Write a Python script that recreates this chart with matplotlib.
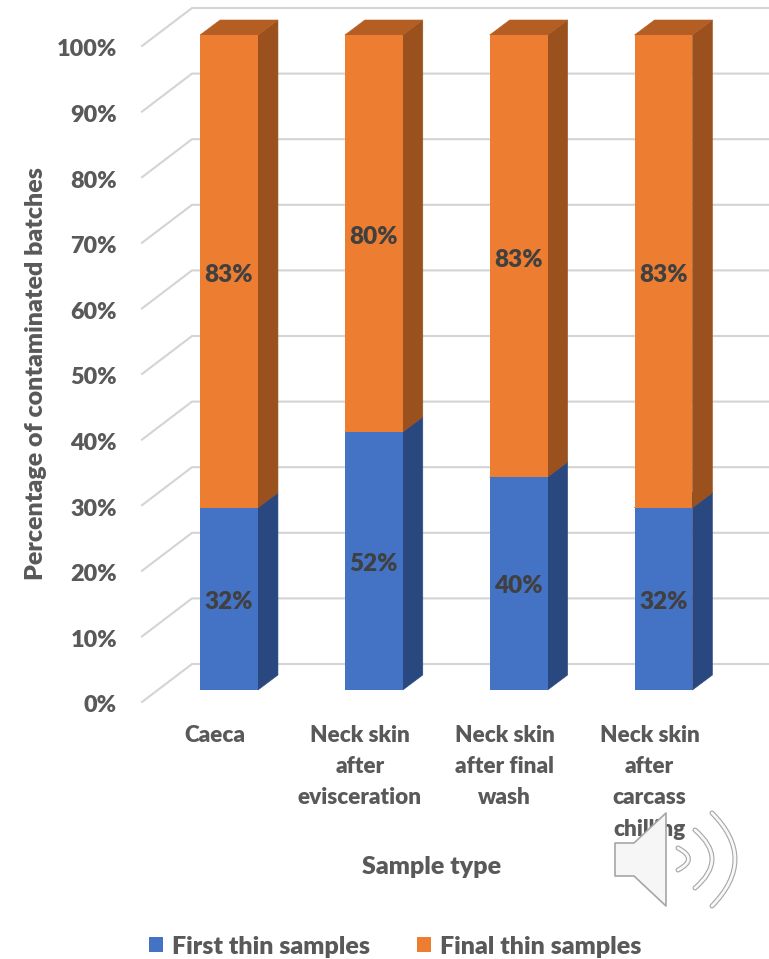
import matplotlib
matplotlib.use("Agg")
import matplotlib.pyplot as plt
import numpy as np
from matplotlib.patches import Rectangle, Polygon, PathPatch
from matplotlib.path import Path
from matplotlib.transforms import ScaledTranslation

W, H = 769, 959

categories = ["Caeca", "Neck skin\nafter\nevisceration", "Neck skin\nafter final\nwash", "Neck skin\nafter\ncarcass\nchilling"]
first_thin = [32, 52, 40, 32]
final_thin = [83, 80, 83, 83]
yticks = list(range(0, 101, 10))

TEXT = "#595959"
plt.rcParams["font.family"] = ["Lato", "DejaVu Sans"]
plt.rcParams["font.weight"] = "heavy"

fig = plt.figure(figsize=(W / 100, H / 100), dpi=100)
# front plane of the chart: y = 0 sits at pixel 702, y = 100 at pixel 46
ax = fig.add_axes([142 / W, 1 - 702 / H, (W - 142) / W, (702 - 46) / H])

PX_X = 1 / 144.83   # one pixel in x data units
PX_Y = 100 / 656    # one pixel in y data units
ax.set_xlim((142 - 229) * PX_X, (W - 229) * PX_X)
ax.set_ylim(0, 100)

# walls: a diagonal on the floor side and a line along the back
x0 = ax.get_xlim()[0]
x1 = ax.get_xlim()[1]
back_x = x0 + 50 * PX_X
back_y = 38 * PX_Y
for t in yticks:
    ax.plot([x0, back_x, x1], [t, t + back_y, t + back_y], color="#D4D4D4", lw=1.5,
            clip_on=False, zorder=1, solid_joinstyle="round")

# bars are drawn 3D-style with a side and a top face
x = np.arange(len(categories))
bar_w = 0.4
base = 12 * PX_Y
dx = 20 * PX_X
dy = 15 * PX_Y
bar_scale = 655 / 656


def box(xc, y0, y1, front, side, top):
    l, r = xc - bar_w / 2, xc + bar_w / 2
    ax.add_patch(Polygon([(r, y0), (r + dx, y0 + dy), (r + dx, y1 + dy), (r, y1)],
                         fc=side, ec=side, lw=0.4, clip_on=False, zorder=3))
    ax.add_patch(Polygon([(l, y1), (l + dx, y1 + dy), (r + dx, y1 + dy), (r, y1)],
                         fc=top, ec=top, lw=0.4, clip_on=False, zorder=3))
    ax.bar(xc, y1 - y0, bar_w, bottom=y0, color=front, clip_on=False, zorder=4)


for i in x:
    total = first_thin[i] + final_thin[i]
    share = first_thin[i] / total * 100
    y_mid = base + share * bar_scale
    y_top = base + 100 * bar_scale
    box(i, base, y_mid, "#4472C4", "#2A4880", "#2F5597")
    box(i, y_mid, y_top, "#ED7D31", "#9A511E", "#B55E24")
    # labels sit a few pixels under the segment centre
    ax.text(i, (base + y_mid) / 2 - 3 * PX_Y, f"{first_thin[i]}%", ha="center", va="center",
            fontsize=17.5, color="#404040", zorder=5)
    ax.text(i, (y_mid + y_top) / 2 - 4 * PX_Y, f"{final_thin[i]}%", ha="center", va="center",
            fontsize=17.5, color="#404040", zorder=5)

ax.set_yticks(yticks)
ax.set_yticklabels([f"{t}%" for t in yticks], fontsize=16.8, color=TEXT)
ax.set_xticks(x - 14 * PX_X)
ax.set_xticklabels(categories, fontsize=16.2, color=TEXT, linespacing=1.6)
ax.tick_params(axis="both", length=0)
ax.tick_params(axis="y", pad=18)
ax.tick_params(axis="x", pad=16.5)
# y labels hang 2 px below their gridline
shift = ScaledTranslation(0, -2 / 100, fig.dpi_scale_trans)
for lab in ax.get_yticklabels():
    lab.set_transform(lab.get_transform() + shift)
for s in ax.spines.values():
    s.set_visible(False)
ax.patch.set_alpha(0)

fig.text(36 / W, 1 - 374 / H, "Percentage of contaminated batches", rotation=90,
         ha="center", va="center", fontsize=18, color=TEXT)
fig.text(432 / W, 1 - 867.5 / H, "Sample type", ha="center", va="center",
         fontsize=18, color=TEXT)

handles = [Rectangle((0, 0), 1, 1, fc="#4472C4"), Rectangle((0, 0), 1, 1, fc="#ED7D31")]
leg = fig.legend(handles, ["First thin samples", "Final thin samples"], ncols=2,
                 loc="center", bbox_to_anchor=(395 / W, 1 - 946.5 / H), frameon=False,
                 fontsize=18, labelcolor=TEXT, handlelength=0.56, handleheight=0.56,
                 handletextpad=0.36, columnspacing=1.9, borderpad=0)

# speaker icon in pixel coordinates, over the axis text
icon = fig.add_axes([0, 0, 1, 1], zorder=10)
icon.set_xlim(0, W)
icon.set_ylim(H, 0)
icon.axis("off")
icon.add_patch(Polygon([(615, 843), (634, 843), (666, 813), (666, 906), (634, 876), (615, 876)],
                       fc="#F6F6F6", ec="#A6A6A6", lw=1.2, joinstyle="round"))
waves = [((678, 848), (699, 859), (678, 870)),
         ((695, 830), (729, 859), (695, 888)),
         ((712, 813), (758, 859), (712, 906))]
for a, b, c in waves:
    p = Path([a, b, c], [Path.MOVETO, Path.CURVE3, Path.CURVE3])
    icon.add_patch(PathPatch(p, fc="none", ec="#A6A6A6", lw=3.6, capstyle="round"))
    icon.add_patch(PathPatch(p, fc="none", ec="#F8F8F8", lw=2.0, capstyle="round"))

fig.savefig("out.png", dpi=100)
